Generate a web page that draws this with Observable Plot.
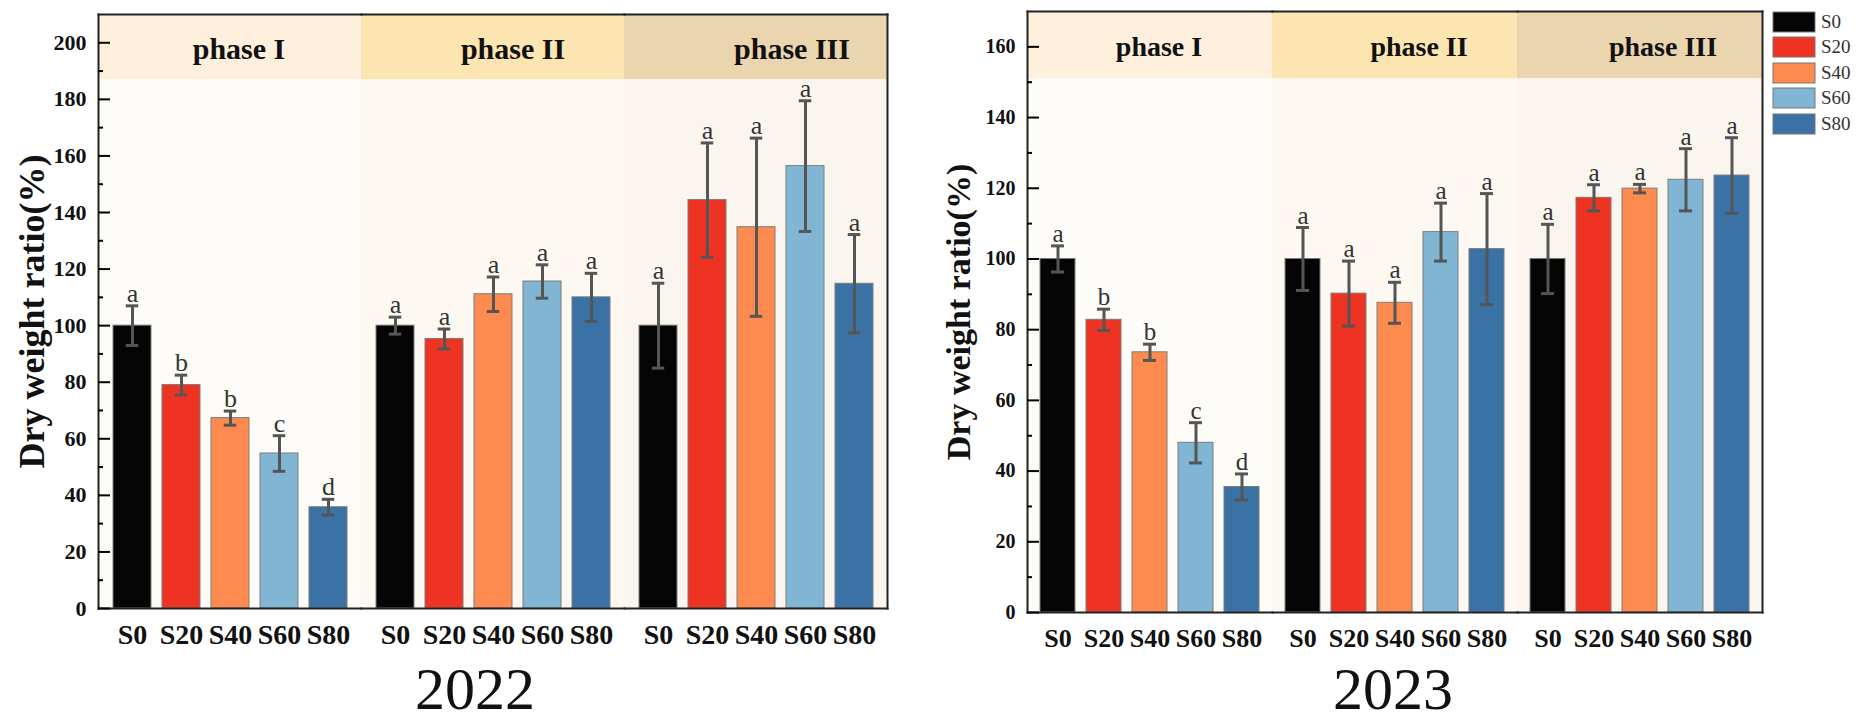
<!DOCTYPE html>
<html>
<head>
<meta charset="utf-8">
<script src="https://cdn.jsdelivr.net/npm/d3@7"></script>
<script src="https://cdn.jsdelivr.net/npm/@observablehq/plot@0.6"></script>
<style>
  body { margin: 0; background: #fff; }
  #wrap { position: relative; width: 1856px; height: 722px; display: flex; overflow: hidden; }
  .panel { position: relative; }
  .year { font: 60px "Liberation Serif", serif; line-height: 66px; height: 66px; padding-top: 6px; text-align: center; color: #111; }
  #legend { position: absolute; left: 1773px; top: 11px; width: 83px; }
  #legend .leg-swatch { padding-bottom: 3.4px; }
  #legend .leg-swatch svg { margin-right: 6px; }
  #legend .leg-swatch svg rect { stroke: #777; stroke-width: 1px; }
</style>
</head>
<body>
<div id="wrap">
  <div class="panel" id="p2022"></div>
  <div class="panel" id="p2023"></div>
  <div id="legend"></div>
</div>
<script>
const phases = ["phase I", "phase II", "phase III"];
const treats = ["S0", "S20", "S40", "S60", "S80"];
const barColors = ["#050505", "#ee3322", "#fd8a4f", "#80b6d4", "#3b72a5"];
const headerColors = ["#fef0dc", "#fde5b2", "#ebd5af"];
const bodyColors = ["#fefcf8", "#fdf8f1", "#faf5ee"];

// 2022: phase I, II, III x S0..S80
const mean2022 = [100, 79, 67.3, 54.8, 35.8, 100, 95.3, 111.1, 115.6, 110, 100, 144.4, 134.8, 156.4, 114.8];
const err2022 = [7, 3.5, 2.5, 6.3, 2.8, 3, 3.5, 6.1, 5.9, 8.5, 15, 20.2, 31.5, 23.1, 17.4];
const letters2022 = ["a", "b", "b", "c", "d", "a", "a", "a", "a", "a", "a", "a", "a", "a", "a"];

// 2023
const mean2023 = [100, 82.8, 73.6, 48, 35.5, 100, 90.2, 87.6, 107.6, 102.8, 100, 117.3, 119.9, 122.4, 123.6];
const err2023 = [3.7, 3, 2.3, 5.7, 3.7, 8.9, 9.2, 5.8, 8.2, 15.7, 9.8, 3.7, 1.2, 8.8, 10.7];
const letters2023 = ["a", "b", "b", "c", "d", "a", "a", "a", "a", "a", "a", "a", "a", "a", "a"];

const ticks2022 = [0, 20, 40, 60, 80, 100, 120, 140, 160, 180, 200];
const minor2022 = [10, 30, 50, 70, 90, 110, 130, 150, 170, 190];
const ticks2023 = [0, 20, 40, 60, 80, 100, 120, 140, 160];
const minor2023 = [10, 30, 50, 70, 90, 110, 130, 150];

const serif = "Liberation Serif";

function panel(o) {
  const rows = [];
  phases.forEach((phase, i) => treats.forEach((treat, j) => {
    const k = i * treats.length + j;
    rows.push({phase, treat, mean: o.means[k], lo: o.means[k] - o.errs[k], hi: o.means[k] + o.errs[k], letter: o.letters[k]});
  }));
  const line = {stroke: "#222", strokeWidth: 2};
  return Plot.plot({
    width: o.width,
    height: 650,
    marginTop: o.mt,
    marginBottom: o.mb,
    marginLeft: 97,
    marginRight: o.mr,
    style: {fontFamily: serif, background: "transparent", overflow: "visible"},
    fx: {domain: phases, padding: 0, axis: null},
    x: {domain: treats, paddingInner: o.pi, paddingOuter: o.po},
    y: {domain: [0, o.top]},
    color: {domain: treats, range: barColors},
    marks: [
      ...phases.map((p, i) => Plot.barY([p], {fx: d => d, y1: 0, y2: o.headerLow, fill: bodyColors[i]})),
      ...phases.map((p, i) => Plot.barY([p], {fx: d => d, y1: o.headerLow, y2: o.top, fill: headerColors[i]})),
      Plot.barY(rows, {fx: "phase", x: "treat", y: "mean", fill: "treat", stroke: "#7d7d7d", strokeWidth: 1}),
      Plot.ruleX(rows, {fx: "phase", x: "treat", y1: "lo", y2: "hi", stroke: "#555", strokeWidth: 3}),
      Plot.tickY(rows, {fx: "phase", x: "treat", y: "hi", stroke: "#555", strokeWidth: 3, inset: o.capInset}),
      Plot.tickY(rows, {fx: "phase", x: "treat", y: "lo", stroke: "#555", strokeWidth: 3, inset: o.capInset}),
      Plot.text(rows, {fx: "phase", x: "treat", y: "hi", text: "letter", lineAnchor: "bottom", dy: -4, fontSize: o.letterSize, fill: "#333"}),
      ...phases.map((p, i) => Plot.text([p], {fx: d => d, y: (o.headerLow + o.top) / 2, text: d => d, fontSize: o.headSize, fontWeight: "bold", fill: "#111", dx: o.headShift[i], dy: 2})),
      Plot.frame({anchor: "top", ...line}),
      Plot.frame({anchor: "bottom", ...line}),
      Plot.frame({anchor: "left", facetAnchor: "left", ...line}),
      Plot.frame({anchor: "right", facetAnchor: "right", ...line}),
      Plot.axisY({ticks: o.major, tickSize: -12, tickPadding: 24, strokeWidth: 2, fontSize: o.tickFont, fontWeight: "bold", fill: "#111", label: null}),
      Plot.axisY({ticks: o.minor, tickSize: -5, strokeWidth: 2, tickFormat: () => "", label: null}),
      Plot.axisY({ticks: [], label: "Dry weight ratio(%)", labelAnchor: "center", labelOffset: o.labelOffset, labelArrow: "none", fontSize: o.labelFont, fontWeight: "bold", fill: "#111"}),
      Plot.axisX({tickSize: 0, tickPadding: 16, fontSize: o.xFont, fontWeight: "bold", fill: "#111", label: null})
    ]
  });
}

const chart2022 = panel({
  means: mean2022, errs: err2022, letters: letters2022,
  width: 930, mt: 14, mb: 42, mr: 43, top: 210, headerLow: 187,
  pi: 0.23, po: 0.25, capInset: 12.75, major: ticks2022, minor: minor2022,
  tickFont: 22, xFont: 28, letterSize: 26, headSize: 30, labelFont: 36, labelOffset: 80,
  headShift: [9, 20, 36]
});
const chart2023 = panel({
  means: mean2023, errs: err2023, letters: letters2023,
  width: 926, mt: 11, mb: 38, mr: 94, top: 170, headerLow: 151,
  pi: 0.24, po: 0.265, capInset: 11, major: ticks2023, minor: minor2023,
  tickFont: 20, xFont: 26, letterSize: 25, headSize: 28, labelFont: 34, labelOffset: 82,
  headShift: [9, 24, 23]
});

d3.select("#p2022").append(() => chart2022);
d3.select("#p2022").append("div").attr("class", "year").style("padding-left", "20px").style("width", "910px").text("2022");
d3.select("#p2023").append(() => chart2023);
d3.select("#p2023").append("div").attr("class", "year").style("width", "926px").text("2023");

const legend = Plot.legend({
  color: {domain: treats, range: barColors},
  columns: 1,
  swatchWidth: 42,
  swatchHeight: 20,
  className: "leg",
  style: {fontFamily: serif, fontSize: "19px", color: "#333"}
});
d3.select("#legend").append(() => legend);
</script>
</body>
</html>
